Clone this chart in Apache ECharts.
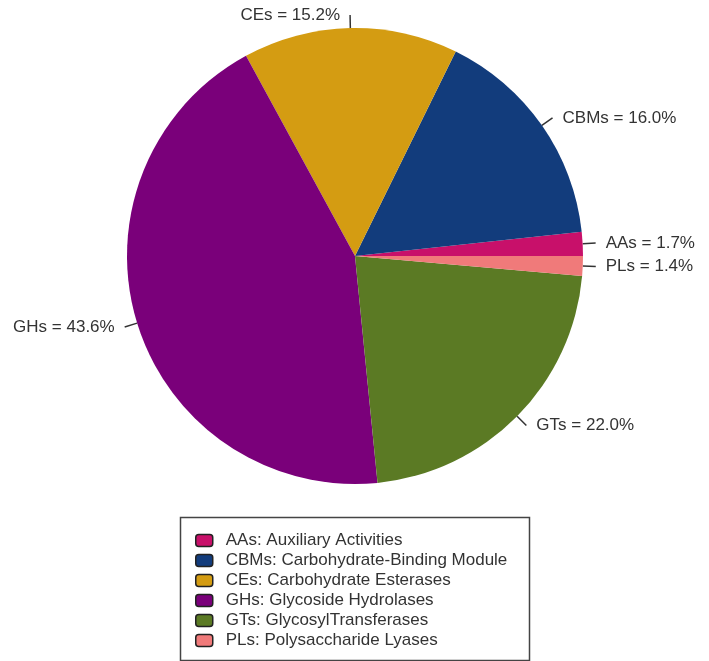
<!DOCTYPE html>
<html>
<head>
<meta charset="utf-8">
<script src="https://cdn.jsdelivr.net/npm/echarts@6/dist/echarts.min.js"></script>
<style>
  html, body { margin: 0; padding: 0; background: #fff; }
  #chart { width: 709px; height: 661px; }
</style>
</head>
<body>
<div id="chart"></div>
<script>
// CAZy 分类及占比（%）
const categories = ['AAs', 'CBMs', 'CEs', 'GHs', 'GTs', 'PLs'];
const fullNames = [
  'Auxiliary Activities',
  'Carbohydrate-Binding Module',
  'Carbohydrate Esterases',
  'Glycoside Hydrolases',
  'GlycosylTransferases',
  'Polysaccharide Lyases'
];
const percents = [1.7, 16.0, 15.2, 43.6, 22.0, 1.4];
const colors = ['#c8106a', '#123c7c', '#d49c12', '#7a007a', '#5b7a24', '#f07a7a'];

const chart = echarts.init(document.getElementById('chart'));

const option = {
  animation: false,
  color: colors,
  textStyle: { fontFamily: 'Liberation Sans, Arial, sans-serif' },
  // 图例外框
  graphic: [{
    type: 'rect',
    left: 178,
    top: 515,
    shape: { width: 349, height: 143 },
    style: { fill: 'none', stroke: '#444', lineWidth: 1.5 },
    z: 0
  }],
  legend: {
    orient: 'vertical',
    left: 190,
    top: 526,
    height: 140,
    itemWidth: 17,
    itemHeight: 12,
    itemGap: 1,
    icon: 'roundRect',
    itemStyle: { borderColor: '#222', borderWidth: 1.5 },
    textStyle: { fontSize: 17, color: '#333', padding: [0, 0, 0, 8], lineHeight: 19 },
    formatter: function (name) {
      return name + ': ' + fullNames[categories.indexOf(name)];
    },
    data: categories
  },
  series: [{
    type: 'pie',
    center: [355, 256],
    radius: 228,
    startAngle: 0,
    clockwise: false,
    avoidLabelOverlap: false,
    itemStyle: { borderWidth: 0 },
    label: {
      show: true,
      position: 'outside',
      fontSize: 17,
      color: '#333',
      distanceToLabelLine: 10,
      formatter: function (p) {
        return p.name + ' = ' + p.value.toFixed(1) + '%';
      }
    },
    labelLine: {
      show: true,
      length: 13,
      length2: 0,
      lineStyle: { color: '#333', width: 1.5 }
    },
    emphasis: { disabled: true },
    data: categories.map((c, i) => ({ name: c, value: percents[i] }))
  }]
};

chart.setOption(option);
</script>
</body>
</html>
